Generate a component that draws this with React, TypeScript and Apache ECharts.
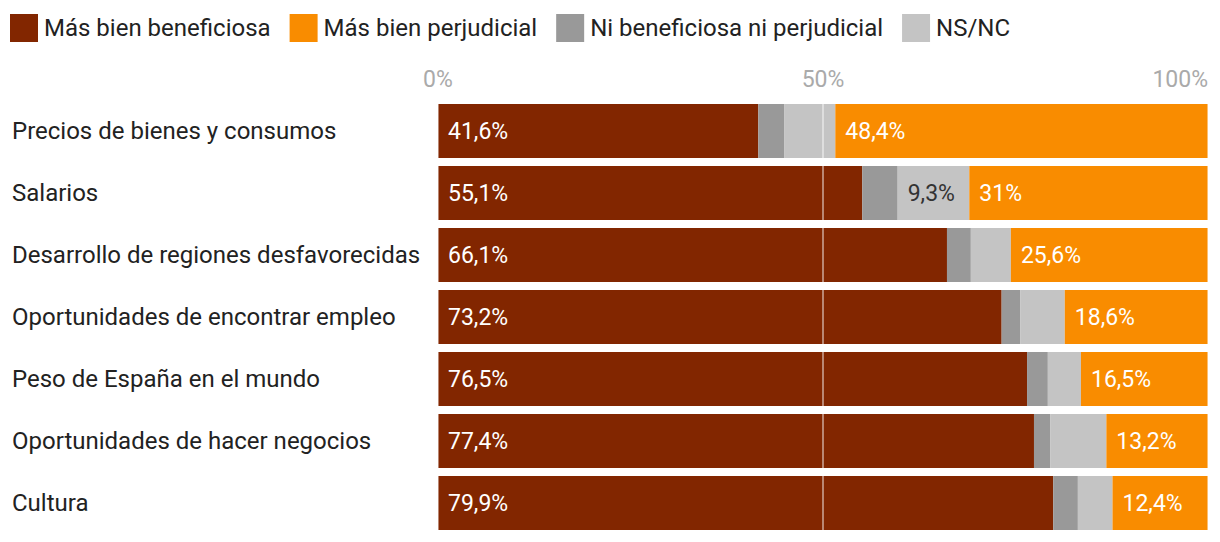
import React, { useEffect, useRef } from "react";
import * as echarts from "echarts";

const categories = [
  "Precios de bienes y consumos",
  "Salarios",
  "Desarrollo de regiones desfavorecidas",
  "Oportunidades de encontrar empleo",
  "Peso de España en el mundo",
  "Oportunidades de hacer negocios",
  "Cultura",
];
const beneficiosa = [41.6, 55.1, 66.1, 73.2, 76.5, 77.4, 79.9];
const ninguna = [3.4, 4.6, 3.1, 2.4, 2.7, 2.1, 3.2];
const nsnc = [6.6, 9.3, 5.2, 5.8, 4.3, 7.3, 4.5];
const perjudicial = [48.4, 31, 25.6, 18.6, 16.5, 13.2, 12.4];
const nsncLabelShown = [false, true, false, false, false, false, false];
const xTicks = [0, 50, 100];

const fmt = (v: number) => String(v).replace(".", ",") + "%";
const FONT = "Roboto";

export default function App() {
  const ref = useRef<HTMLDivElement>(null);
  useEffect(() => {
    if (!ref.current) return;
    const chart = echarts.init(ref.current, undefined, { renderer: "svg" });
    const labelBase = {
      show: true,
      position: "insideLeft" as const,
      distance: 10,
      color: "#fff",
      fontSize: 23,
      fontFamily: FONT,
      formatter: (p: any) => fmt(p.value),
    };
    chart.setOption({
      animation: false,
      textStyle: { fontFamily: FONT },
      legend: {
        top: 14,
        left: 10,
        padding: 0,
        itemWidth: 28,
        itemHeight: 28,
        itemGap: 19,
        icon: "rect",
        textStyle: { fontSize: 24, color: "#222", fontFamily: FONT, padding: [0, 0, 0, 1] },
        data: ["Más bien beneficiosa", "Más bien perjudicial", "Ni beneficiosa ni perjudicial", "NS/NC"],
      },
      grid: { left: 438, right: 12, top: 100, bottom: 8, containLabel: false },
      xAxis: {
        type: "value",
        min: 0,
        max: 100,
        interval: 50,
        position: "top",
        axisLine: { show: false },
        axisTick: { show: false },
        splitLine: { show: false },
        axisLabel: {
          fontSize: 23,
          color: "#aaa",
          fontFamily: FONT,
          margin: 9,
          alignMaxLabel: "right",
          formatter: (v: number) => (xTicks.includes(v) ? v + "%" : ""),
        },
      },
      yAxis: {
        type: "category",
        data: categories,
        inverse: true,
        axisLine: { show: false },
        axisTick: { show: false },
        axisLabel: {
          align: "left",
          margin: 426,
          fontSize: 24,
          color: "#222",
          fontFamily: FONT,
        },
      },
      series: [
        {
          name: "Más bien beneficiosa",
          type: "bar",
          stack: "t",
          barWidth: 54,
          data: beneficiosa,
          itemStyle: { color: "#822600" },
          label: labelBase,
        },
        {
          name: "Ni beneficiosa ni perjudicial",
          type: "bar",
          stack: "t",
          data: ninguna,
          itemStyle: { color: "#999999" },
          label: { show: false },
        },
        {
          name: "NS/NC",
          type: "bar",
          stack: "t",
          data: nsnc.map((v, i) => ({
            value: v,
            label: { show: nsncLabelShown[i] },
          })),
          itemStyle: { color: "#c4c4c4" },
          label: { ...labelBase, show: false, color: "#333" },
        },
        {
          name: "Más bien perjudicial",
          type: "bar",
          stack: "t",
          data: perjudicial,
          itemStyle: { color: "#f98c00" },
          label: labelBase,
          markLine: {
            silent: true,
            symbol: "none",
            z: 10,
            label: { show: false },
            lineStyle: { color: "rgba(255,255,255,0.45)", type: "solid", width: 2 },
            data: xTicks.map((t) => ({ xAxis: t })),
          },
        },
      ],
    });
    return () => chart.dispose();
  }, []);
  return <div ref={ref} style={{ width: 1220, height: 542, margin: -8 }} />;
}
